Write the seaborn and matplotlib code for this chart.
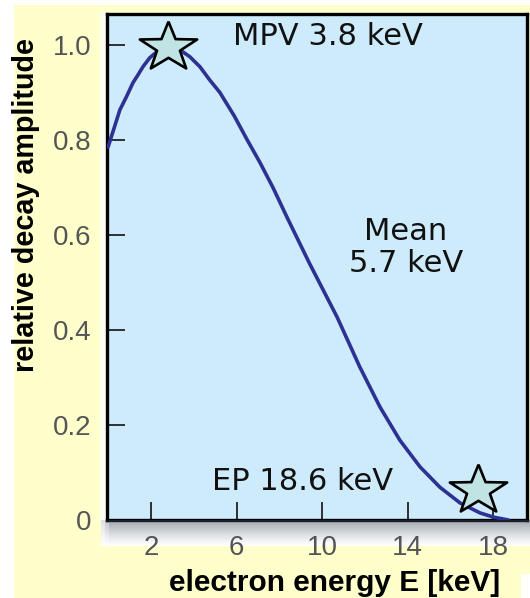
import numpy as np
import pandas as pd
import matplotlib
matplotlib.use("Agg")
import matplotlib.pyplot as plt
from matplotlib.patches import Rectangle
import seaborn as sns

# Beta spectrum of tritium decay: electron energy (keV) vs relative amplitude
energy_kev = [0.0, 0.55, 0.86, 1.16, 1.4, 1.63, 1.95, 2.4, 2.8, 3.5, 3.82, 4.29,
              4.75, 5.22, 5.9, 6.5, 7.1, 7.7, 8.35, 9.4, 10.7, 11.76, 12.7,
              13.63, 14.57, 15.5, 16.44, 17.37, 18.0, 18.7]
amplitude = [0.785, 0.863, 0.891, 0.92, 0.937, 0.954, 0.973, 0.99, 0.997, 0.985,
             0.975, 0.954, 0.926, 0.90, 0.85, 0.80, 0.752, 0.70, 0.638, 0.541,
             0.427, 0.322, 0.238, 0.168, 0.112, 0.069, 0.036, 0.015, 0.006, 0.0]

# Highlighted points: most probable value and end point
star_energy = [2.8, 17.3]
star_amplitude = [0.995, 0.063]

x_ticks = [2, 6, 10, 14, 18]
y_ticks = [0, 0.2, 0.4, 0.6, 0.8, 1.0]
y_tick_labels = ["0", "0.2", "0.4", "0.6", "0.8", "1.0"]

annotations = ["MPV 3.8 keV", "Mean\n5.7 keV", "EP 18.6 keV"]

sns.set_theme(style="ticks")

W, H = 530, 598
fig = plt.figure(figsize=(W / 100, H / 100), dpi=100)
fig.patch.set_facecolor("white")

# Page background: pale yellow sheet, white panel strip below the plot
bg = fig.add_axes([0, 0, 1, 1], zorder=-10)
bg.set_xlim(0, W)
bg.set_ylim(H, 0)
bg.axis("off")
bg.add_patch(Rectangle((14, 5), W - 14, H - 5, color="#FFFFCC", lw=0, zorder=1))
bg.add_patch(Rectangle((521, 574), 10, 30, color="white", lw=0, zorder=1))
bg.add_patch(Rectangle((100, 12), 8, 512, color="#FBFCF0", lw=0, zorder=1))
bg.add_patch(Rectangle((101, 520), W - 101, 26, color="white", lw=0, zorder=1))

ax = fig.add_axes([107 / W, 1 - 520 / H, 420 / W, 506 / H])
ax.set_facecolor("#CDEBFB")

df = pd.DataFrame({"E": energy_kev, "A": amplitude})
sns.lineplot(data=df, x="E", y="A", ax=ax, color="#2D3192", linewidth=2.6,
             zorder=3, sort=False)

# Star marker slightly wider than tall
ang = np.pi / 2 + np.arange(10) * np.pi / 5
rad = np.where(np.arange(10) % 2 == 0, 1.0, 0.40)
star_verts = list(zip(rad * np.cos(ang), 0.86 * rad * np.sin(ang)))
star_verts.append(star_verts[0])
stars = pd.DataFrame({"E": star_energy, "A": star_amplitude})
sns.scatterplot(data=stars, x="E", y="A", ax=ax, marker=star_verts, s=1700,
                color="#BFE4E3", edgecolor="black", linewidth=1.9, zorder=4,
                clip_on=False)

ax.set_xlim(-0.05, 19.57)
ax.set_ylim(0, 1.065)
ax.set_xticks(x_ticks)
ax.set_xticklabels([str(v) for v in x_ticks])
ax.set_yticks(y_ticks)
ax.set_yticklabels(y_tick_labels)

# Translucent grey shadow strip below the panel, drawn at figure level
n_rows = 26
for i in range(n_rows):
    a = 0.48 * (1 - i / (n_rows - 1)) ** 1.2
    for j in range(3):
        x0 = 101 + j * 4
        w = 4 if j < 2 else W - x0
        fade = (j + 1) / 3.0 if j < 2 else 1.0
        fig.add_artist(Rectangle((x0 / W, 1 - (521 + i) / H), w / W, 1.02 / H,
                                 transform=fig.transFigure,
                                 facecolor=(0.22, 0.28, 0.34),
                                 alpha=a * fade, lw=0, zorder=1))

for side in ["left", "right", "top", "bottom"]:
    ax.spines[side].set_visible(True)
    ax.spines[side].set_color("black")
    ax.spines[side].set_linewidth(2.4)

ax.tick_params(axis="both", direction="in", length=13, width=1.3, color="#222222",
               labelsize=20, labelcolor="#555555")
ax.tick_params(axis="x", pad=11)
ax.tick_params(axis="y", pad=11)
for lab in ax.get_xticklabels() + ax.get_yticklabels():
    lab.set_family(["Liberation Sans", "DejaVu Sans"])

ax.set_xlabel("electron energy E [keV]", fontsize=21.5, fontweight="bold",
              family=["Liberation Sans", "DejaVu Sans"], color="black")
ax.xaxis.label.set_va("center")
ax.xaxis.set_label_coords(0.543, -0.1245)
ax.set_ylabel("relative decay amplitude", fontsize=20.7, fontweight="bold",
              family=["Liberation Sans", "DejaVu Sans"], color="black")
ax.yaxis.label.set_va("center")
ax.yaxis.set_label_coords(-0.193, 0.6225)

txt_kw = dict(fontsize=22, color="#111111", family=["DejaVu Sans"], zorder=5)
ax.text(5.82, 1.017, annotations[0], ha="left", va="center", **txt_kw)
ax.text(13.92, 0.573, annotations[1], ha="center", va="center",
        multialignment="center", linespacing=1.15, **txt_kw)
ax.text(4.85, 0.082, annotations[2], ha="left", va="center", **txt_kw)

fig.savefig("out.png", dpi=100, facecolor=fig.get_facecolor())
